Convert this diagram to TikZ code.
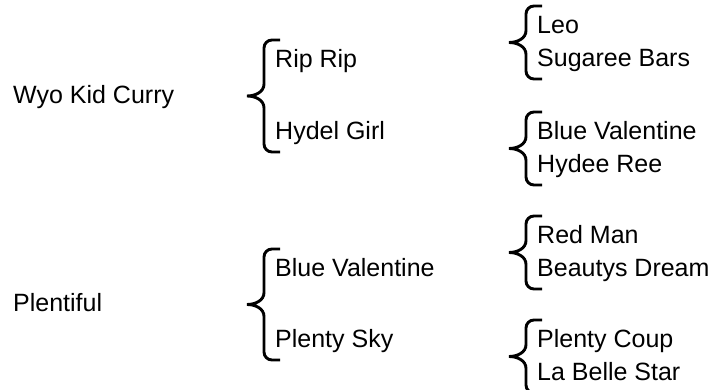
\documentclass[tikz,border=0pt]{standalone}
\usepackage{fontspec}
\setmainfont{Liberation Sans}
\usetikzlibrary{calc}

% brace on the left of two stacked names (#1 top, #2 bottom)
\newcommand{\kinbrace}[2]{%
  \draw[kin] let \p1=(#1.base west), \p2=(#2.base west),
    \n1={\y1+28}, \n2={\y2-12}, \n3={(\y1+28+\y2-12)/2} in
    (\x1+5,\n1) -- (\x1-3,\n1) to[out=180,in=90] (\x1-11,\n1-8)
    -- (\x1-11,\n3+12) to[out=-90,in=0] (\x1-28,\n3)
    to[out=0,in=90] (\x1-11,\n3-12)
    -- (\x1-11,\n2+8) to[out=-90,in=180] (\x1-3,\n2) -- (\x1+5,\n2);
}

\begin{document}
\begin{tikzpicture}[
x=1pt, y=1pt,
horse/.style={anchor=base west, inner sep=0pt, font=\fontsize{25}{30}\selectfont},
kin/.style={line width=2.9pt}
]
\useasboundingbox (0,0) rectangle (717,390);
% first generation
\node[horse] (wyo) at (13,286) {Wyo Kid Curry};
\node[horse] (plentiful) at (13,78) {Plentiful};
% parents
\node[horse] (rip) at (275,322) {Rip Rip};
\node[horse] (hydel) at (275,250) {Hydel Girl};
\node[horse] (bluevb) at (275,113) {Blue Valentine};
\node[horse] (sky) at (275,42) {Plenty Sky};
% grandparents
\node[horse] (leo) at (537,356) {Leo};
\node[horse] (sugaree) at (537,323) {Sugaree Bars};
\node[horse] (blueva) at (537,250) {Blue Valentine};
\node[horse] (hydee) at (537,217) {Hydee Ree};
\node[horse] (redman) at (537,146) {Red Man};
\node[horse] (beautys) at (537,113) {Beautys Dream};
\node[horse] (coup) at (537,42) {Plenty Coup};
\node[horse] (belle) at (537,9) {La Belle Star};
% braces
\kinbrace{rip}{hydel}
\kinbrace{bluevb}{sky}
\kinbrace{leo}{sugaree}
\kinbrace{blueva}{hydee}
\kinbrace{redman}{beautys}
\kinbrace{coup}{belle}
\end{tikzpicture}
\end{document}
